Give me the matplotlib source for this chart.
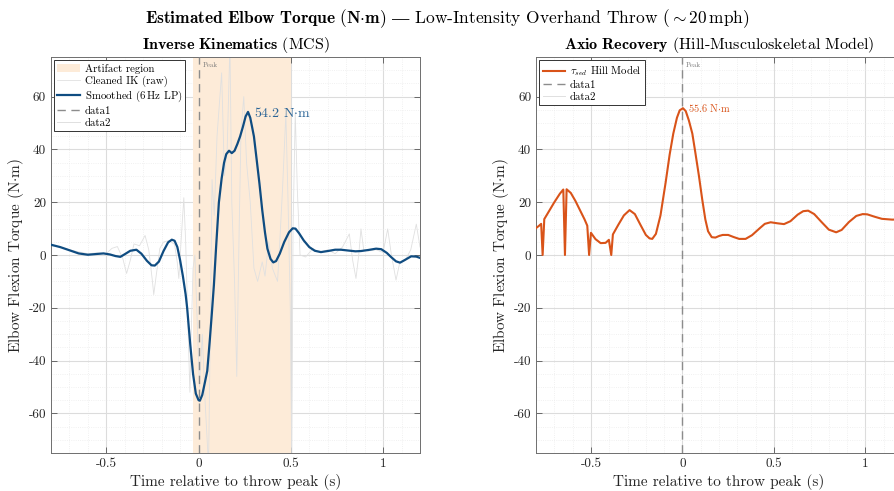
import numpy as np
import matplotlib
matplotlib.use('Agg')
import matplotlib.pyplot as plt
from matplotlib.ticker import MultipleLocator, FuncFormatter

# Serif look of the MATLAB / LaTeX original.
plt.rcParams['font.family'] = ['cmr10', 'DejaVu Serif']
plt.rcParams['mathtext.fontset'] = 'cm'
plt.rcParams['axes.unicode_minus'] = False

# Left panel: inverse kinematics (raw + smoothed).
raw_t = [-0.80, -0.75, -0.70, -0.65, -0.60, -0.55, -0.50, -0.47, -0.44, -0.41, -0.39, -0.37,
         -0.35, -0.32, -0.29, -0.27, -0.25, -0.243, -0.23, -0.21, -0.19, -0.16, -0.13, -0.115,
         -0.107, -0.095, -0.08, -0.07, -0.06, -0.05, -0.047, -0.04, -0.03, -0.02, -0.01, 0.005,
         0.02, 0.035, 0.054, 0.065, 0.073, 0.085, 0.10, 0.125, 0.14, 0.155, 0.17, 0.18,
         0.195, 0.207, 0.22, 0.23, 0.245, 0.26, 0.28, 0.30, 0.32, 0.345, 0.36, 0.38,
         0.40, 0.428, 0.44, 0.455, 0.473, 0.485, 0.497, 0.505, 0.512, 0.524, 0.535, 0.55,
         0.58, 0.62, 0.66, 0.70, 0.74, 0.78, 0.817, 0.835, 0.853, 0.868, 0.88, 0.895,
         0.92, 0.96, 1.00, 1.025, 1.045, 1.07, 1.09, 1.12, 1.15, 1.18, 1.20]
raw_v = [3.5, 3.0, 2.0, 1.2, 0.5, 0.8, 0.5, 2.5, 3.2, -1.5, -7.0, -2.0,
         4.2, 3.5, 7.4, 2.0, -10.0, -15.0, -8.0, 2.5, 4.9, 5.5, 4.0, -3.0,
         -8.9, 5.0, 21.7, 5.0, -20.0, -45.0, -52.0, -30.0, -5.0, 0.0, -20.0, -50.0,
         -30.0, -55.0, -80.0, -20.0, 28.6, 15.0, 45.0, 69.0, 30.0, 40.0, 80.0, 20.0,
         -10.0, -46.0, 10.0, 47.0, 60.0, 35.0, 20.0, -5.0, -10.0, -2.6, -8.0, 5.0,
         -5.0, -10.0, 5.0, 25.0, 53.6, 20.0, -20.0, -80.0, 10.0, 54.0, 25.0, 0.0,
         -0.75, 2.4, 1.0, 2.0, 0.5, 3.0, 8.0, -2.0, -8.9, 0.0, 9.9, 2.0,
         1.5, 2.0, 1.0, 9.9, 0.0, -9.5, -3.0, -2.0, 2.0, 11.7, 3.0]

smooth_t = [-0.80, -0.75, -0.70, -0.65, -0.60, -0.55, -0.515, -0.48, -0.45, -0.424, -0.40, -0.37,
            -0.337, -0.31, -0.28, -0.255, -0.237, -0.215, -0.19, -0.165, -0.145, -0.13, -0.115, -0.10,
            -0.085, -0.07, -0.062, -0.045, -0.03, -0.015, 0.0, 0.007, 0.02, 0.035, 0.047, 0.06,
            0.072, 0.083, 0.095, 0.11, 0.125, 0.138, 0.15, 0.165, 0.18, 0.195, 0.21, 0.225,
            0.24, 0.255, 0.268, 0.28, 0.29, 0.30, 0.315, 0.33, 0.345, 0.36, 0.373, 0.39,
            0.405, 0.42, 0.44, 0.464, 0.49, 0.51, 0.525, 0.545, 0.57, 0.60, 0.63, 0.663,
            0.70, 0.74, 0.772, 0.81, 0.85, 0.88, 0.92, 0.962, 0.99, 1.02, 1.043, 1.07,
            1.092, 1.12, 1.152, 1.18, 1.20]
smooth_v = [3.9, 3.0, 1.8, 0.6, 0.1, 0.4, 0.6, 0.2, -0.4, -0.7, 0.3, 1.6,
            2.0, 0.5, -2.2, -3.9, -4.0, -2.5, 1.5, 4.8, 5.8, 5.4, 3.0, -2.0,
            -8.0, -15.0, -20.0, -34.0, -45.0, -52.5, -55.0, -55.2, -53.0, -48.0, -43.9, -33.0,
            -22.0, -11.4, 3.0, 19.9, 29.0, 34.9, 38.2, 39.5, 38.6, 39.5, 42.0, 44.9,
            48.5, 52.5, 54.2, 52.0, 48.5, 44.9, 36.0, 27.0, 17.0, 8.5, 2.4, -1.5,
            -2.8, -2.3, 0.5, 4.9, 8.6, 10.1, 10.0, 8.2, 5.5, 3.0, 1.6, 1.1,
            1.5, 2.0, 2.0, 1.7, 1.4, 1.5, 1.9, 2.4, 2.2, 0.8, -0.75, -2.4,
            -2.9, -1.8, -0.5, -0.6, -1.1]

# Right panel: Hill-model recovery.
hill_t = [-0.80, -0.785, -0.772, -0.764, -0.755, -0.73, -0.70, -0.67, -0.651, -0.642, -0.633, -0.61,
          -0.585, -0.56, -0.535, -0.52, -0.51, -0.50, -0.475, -0.447, -0.42, -0.402, -0.389, -0.38,
          -0.35, -0.32, -0.289, -0.26, -0.23, -0.20, -0.18, -0.165, -0.145, -0.12, -0.092, -0.07,
          -0.05, -0.03, -0.015, 0.003, 0.018, 0.035, 0.054, 0.07, 0.09, 0.108, 0.125, 0.14,
          0.16, 0.18, 0.20, 0.22, 0.25, 0.28, 0.31, 0.345, 0.38, 0.42, 0.45, 0.482,
          0.52, 0.555, 0.59, 0.63, 0.66, 0.687, 0.72, 0.76, 0.80, 0.84, 0.87, 0.91,
          0.95, 0.985, 1.01, 1.05, 1.09, 1.146, 1.20]
hill_v = [10.2, 11.0, 11.8, 0.0, 13.6, 16.5, 20.0, 23.2, 24.8, 0.0, 24.9, 23.5,
          20.5, 17.0, 13.5, 11.1, 0.0, 8.4, 6.0, 4.5, 4.6, 5.75, 0.0, 7.8,
          11.5, 15.0, 17.0, 15.5, 11.5, 7.6, 6.3, 6.1, 8.0, 15.0, 27.4, 38.0,
          46.0, 52.0, 54.8, 55.6, 54.5, 51.0, 46.0, 39.0, 30.0, 21.1, 13.5, 9.0,
          6.75, 6.6, 7.2, 7.6, 7.6, 6.8, 6.1, 6.1, 7.5, 10.0, 11.8, 12.4,
          12.0, 11.7, 12.8, 15.3, 16.6, 16.8, 15.5, 12.5, 9.6, 8.6, 9.5, 12.5,
          14.8, 15.5, 15.4, 14.5, 13.7, 13.4, 13.5]

artifact_span = (-0.03, 0.5)
ik_peak = (0.268, 54.2)
hill_peak = (0.003, 55.6)

ik_blue = '#0f4c81'
hill_orange = '#d95319'
raw_gray = '#e0e0e0'
peak_gray = '#8c8c8c'


def style_axes(ax):
    ax.set_xlim(-0.8, 1.2)
    ax.set_ylim(-75, 75)
    ax.xaxis.set_major_locator(MultipleLocator(0.5))
    ax.xaxis.set_minor_locator(MultipleLocator(0.1))
    ax.yaxis.set_major_locator(MultipleLocator(20))
    ax.yaxis.set_minor_locator(MultipleLocator(5))
    ax.xaxis.set_major_formatter(FuncFormatter(lambda v, p: '%g' % round(v, 2)))
    ax.yaxis.set_major_formatter(FuncFormatter(lambda v, p: '%g' % round(v, 2)))
    ax.grid(True, which='major', color='#dcdcdc', lw=0.8)
    ax.grid(True, which='minor', color='#ececec', lw=0.6, linestyle=':')
    ax.set_axisbelow(True)
    ax.tick_params(which='major', direction='in', top=True, right=True, length=4,
                   width=0.6, color='#555555', labelsize=9.5, labelcolor='#262626')
    ax.tick_params(which='minor', length=0)
    for s in ax.spines.values():
        s.set_color('#6e6e6e')
        s.set_linewidth(0.7)
    ax.set_xlabel('Time relative to throw peak (s)', fontsize=11, color='#262626', labelpad=3)
    ax.set_ylabel(r'Elbow Flexion Torque (N$\cdot$m)', fontsize=11, color='#262626', labelpad=2)


def add_legend(ax):
    leg = ax.legend(loc='upper left', fontsize=7.8, frameon=True, fancybox=False, handlelength=2.1,
                    borderaxespad=0.3, labelspacing=0.2, borderpad=0.3, handletextpad=0.4)
    leg.get_frame().set_edgecolor('#333333')
    leg.get_frame().set_linewidth(0.7)
    leg.get_frame().set_alpha(1)


fig = plt.figure(figsize=(8.94, 4.91), dpi=100)
ax1 = fig.add_axes([0.0570, 0.0774, 0.4128, 0.8065])
ax2 = fig.add_axes([0.5996, 0.0774, 0.4094, 0.8065])

# Left: inverse kinematics.
ax1.axvspan(*artifact_span, facecolor='#fdebd8', edgecolor='none', label='Artifact region', zorder=1)
ax1.plot(raw_t, raw_v, color=raw_gray, lw=0.6, label='Cleaned IK (raw)', zorder=2)
ax1.plot(smooth_t, smooth_v, color=ik_blue, lw=1.6, label=r'Smoothed (6$\,$Hz LP)', zorder=4)
ax1.axvline(0, color=peak_gray, lw=1.0, ls=(0, (6, 4)), label='data1', zorder=3)
ax1.plot([], [], color=raw_gray, lw=0.7, label='data2')
ax1.text(0.02, 73, 'Peak', fontsize=5, color='#777777', va='top')
ax1.text(ik_peak[0] + 0.03, ik_peak[1] - 0.5, r'%.1f N$\cdot$m' % ik_peak[1], color='#2a6496',
         fontsize=10, va='center')
style_axes(ax1)
ax1.set_title(r'$\mathbf{Inverse\ Kinematics}$ (MCS)', fontsize=11.5, pad=6)
add_legend(ax1)

# Right: Axio recovery.
ax2.plot(hill_t, hill_v, color=hill_orange, lw=1.5, label=r'$\tau_{sed}$ Hill Model', zorder=4)
ax2.axvline(0, color=peak_gray, lw=1.0, ls=(0, (6, 4)), label='data1', zorder=3)
ax2.plot([], [], color=raw_gray, lw=0.7, label='data2')
ax2.text(0.02, 73, 'Peak', fontsize=5, color='#777777', va='top')
ax2.text(hill_peak[0] + 0.03, hill_peak[1], r'%.1f N$\cdot$m' % hill_peak[1], color=hill_orange,
         fontsize=7.5, va='center')
style_axes(ax2)
ax2.set_title(r'$\mathbf{Axio\ Recovery}$ (Hill-Musculoskeletal Model)', fontsize=11.5, pad=6)
add_legend(ax2)

fig.suptitle(r'$\mathbf{Estimated\ Elbow\ Torque\ (N{\cdot}m)}$ $\mathrm{—}$ Low-Intensity Overhand Throw (${\sim}$20$\,$mph)',
             fontsize=12.5, y=0.985)

fig.savefig('out.png', dpi=100)
